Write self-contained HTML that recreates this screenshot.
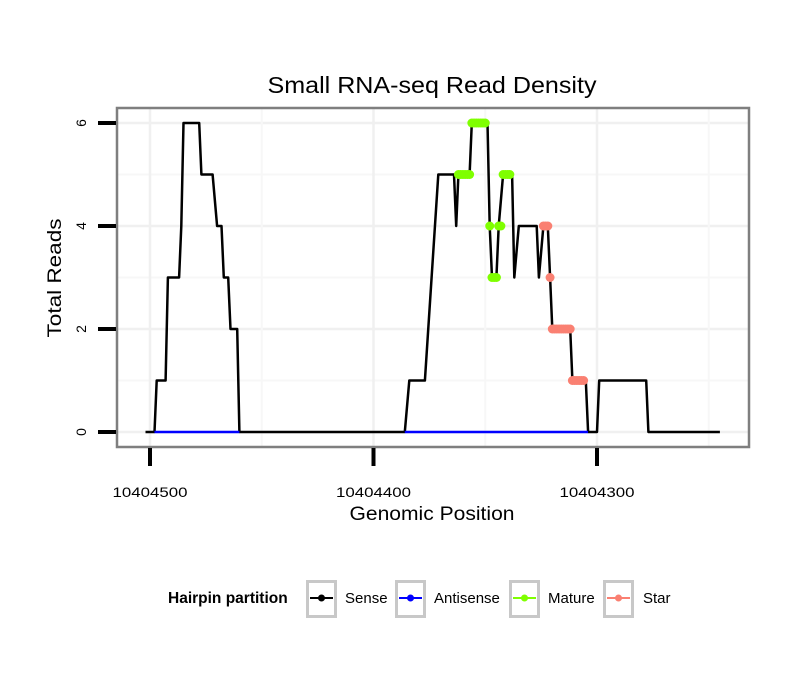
<!DOCTYPE html>
<html><head><meta charset="utf-8">
<style>
body{margin:0;background:#fff;}
svg{display:block;font-family:"Liberation Sans",sans-serif;}
</style></head>
<body>
<svg id="chart" width="810" height="690" viewBox="0 0 810 690">
<defs><clipPath id="pclip"><rect x="117" y="108" width="632" height="339"/></clipPath></defs>
<rect x="0" y="0" width="810" height="690" fill="#fff"/>
<text x="432" y="93" font-size="23" text-anchor="middle" textLength="329" lengthAdjust="spacingAndGlyphs">Small RNA-seq Read Density</text>
<rect x="117" y="108" width="632" height="339" fill="#fff"/>
<g id="grid" clip-path="url(#pclip)"></g>
<g id="marks"></g>
<rect x="117" y="108" width="632" height="339" fill="none" stroke="#7f7f7f" stroke-width="2.5"/>
<g id="axes"></g>
<text x="432" y="520" font-size="19" text-anchor="middle" textLength="165" lengthAdjust="spacingAndGlyphs">Genomic Position</text>
<text transform="translate(61,278) rotate(-90)" font-size="19" text-anchor="middle" textLength="119" lengthAdjust="spacingAndGlyphs">Total Reads</text>
<g>
<text x="168" y="603" font-size="15.5" font-weight="bold">Hairpin partition</text>
<g>
<rect x="307.5" y="581.5" width="28" height="35" fill="#fff" stroke="#c8c8c8" stroke-width="3"/>
<line x1="310" y1="598" x2="333" y2="598" stroke="#000" stroke-width="2"/><circle cx="321.5" cy="598" r="3.5" fill="#000"/>
<text x="345" y="603" font-size="15">Sense</text></g>
<g>
<rect x="396.5" y="581.5" width="28" height="35" fill="#fff" stroke="#c8c8c8" stroke-width="3"/>
<line x1="399" y1="598" x2="422" y2="598" stroke="#0000ff" stroke-width="2"/><circle cx="410.5" cy="598" r="3.5" fill="#0000ff"/>
<text x="434" y="603" font-size="15">Antisense</text></g>
<g>
<rect x="510.5" y="581.5" width="28" height="35" fill="#fff" stroke="#c8c8c8" stroke-width="3"/>
<line x1="513" y1="598" x2="536" y2="598" stroke="#7fff00" stroke-width="2"/><circle cx="524.5" cy="598" r="3.5" fill="#7fff00"/>
<text x="548" y="603" font-size="15">Mature</text></g>
<g>
<rect x="604.5" y="581.5" width="28" height="35" fill="#fff" stroke="#c8c8c8" stroke-width="3"/>
<line x1="607" y1="598" x2="630" y2="598" stroke="#fa8072" stroke-width="2"/><circle cx="618.5" cy="598" r="3.5" fill="#fa8072"/>
<text x="643" y="603" font-size="15">Star</text></g>
</g>
</svg>
<script>
const senseOffsets = [502,498,497,493,492,487,486,485,478,477,472,470,468,467,465,464,461,460,386,384,377,374,371,364,363,362,357,356,349,348,347,345,344,342,338,337,335,327,326,324,322,321,320,312,311,305,304,300,299,278,277,245];
const senseValues  = [0,0,1,1,3,3,4,6,6,5,5,4,4,3,3,2,2,0,0,1,1,3,5,5,4,5,5,6,6,4,3,3,4,5,5,3,4,4,3,4,4,3,2,2,1,1,0,0,1,1,0,0];
const antisenseRanges = [[498,460],[386,304]];
const matureOffsets = [362,361,360,359,358,357,356,355,354,353,352,351,350,348,347,346,345,344,343,342,341,340,339];
const matureValues  = [5,5,5,5,5,5,6,6,6,6,6,6,6,4,3,3,3,4,4,5,5,5,5];
const starOffsets = [324,323,322,321,320,319,318,317,316,315,314,313,312,311,310,309,308,307,306];
const starValues  = [4,4,4,3,2,2,2,2,2,2,2,2,2,1,1,1,1,1,1];
const xTicks = [10404500,10404400,10404300];
const yTicks = [0,2,4,6];
const BASE = 10404000;
const NS='http://www.w3.org/2000/svg';
function xs(off){return 150 + (500 - off) * 2.235;}
function ys(v){return 432 - v * 51.5;}
function mk(tag, attrs, parent){const e=document.createElementNS(NS,tag);for(const k in attrs)e.setAttribute(k,attrs[k]);parent.appendChild(e);return e;}
const grid=document.getElementById('grid'), marks=document.getElementById('marks'), axes=document.getElementById('axes');
for(let v=0; v<=6; v++){
  const l=mk('line',{x1:117,x2:749,y1:ys(v),y2:ys(v),stroke:v%2?'#f7f7f7':'#f0f0f0','stroke-width':v%2?2:2.5},grid);
  
  
}
[550,500,450,400,350,300,250].forEach((o,i)=>{
  const l=mk('line',{x1:xs(o),x2:xs(o),y1:108,y2:447,stroke:i%2?'#f0f0f0':'#f7f7f7','stroke-width':i%2?2.5:2},grid);
  
  
});
const pts=senseOffsets.map((o,i)=>xs(o).toFixed(1)+','+ys(senseValues[i]).toFixed(1)).join(' ');
const sl=mk('polyline',{points:pts,fill:'none',stroke:'#000','stroke-width':2.5,'stroke-linejoin':'round'},marks);


antisenseRanges.forEach(r=>{
  const a=mk('line',{x1:xs(r[0]),x2:xs(r[1]),y1:ys(0),y2:ys(0),stroke:'#0000ff','stroke-width':2.5},marks);
  
  
});
matureOffsets.forEach((o,i)=>{
  const c=mk('circle',{cx:xs(o),cy:ys(matureValues[i]),r:4.5,fill:'#7fff00'},marks);
  
  
});
starOffsets.forEach((o,i)=>{
  const c=mk('circle',{cx:xs(o),cy:ys(starValues[i]),r:4.5,fill:'#fa8072'},marks);
  
  
});
yTicks.forEach(v=>{
  const t=mk('line',{x1:98,x2:116,y1:ys(v),y2:ys(v),stroke:'#000','stroke-width':4},axes);
  
  
  const tx=mk('text',{transform:'translate(86,'+ys(v)+') rotate(-90)','font-size':14,'text-anchor':'middle'},axes);
  tx.textContent=v;
  
  
});
xTicks.forEach(p=>{
  const o=p-BASE;
  const t=mk('line',{x1:xs(o),x2:xs(o),y1:448,y2:466,stroke:'#000','stroke-width':4},axes);
  
  
  const tx=mk('text',{x:xs(o),y:497,'font-size':14,'text-anchor':'middle',textLength:75,lengthAdjust:'spacingAndGlyphs'},axes);
  tx.textContent=p;
  
  
});
</script>
</body></html>
